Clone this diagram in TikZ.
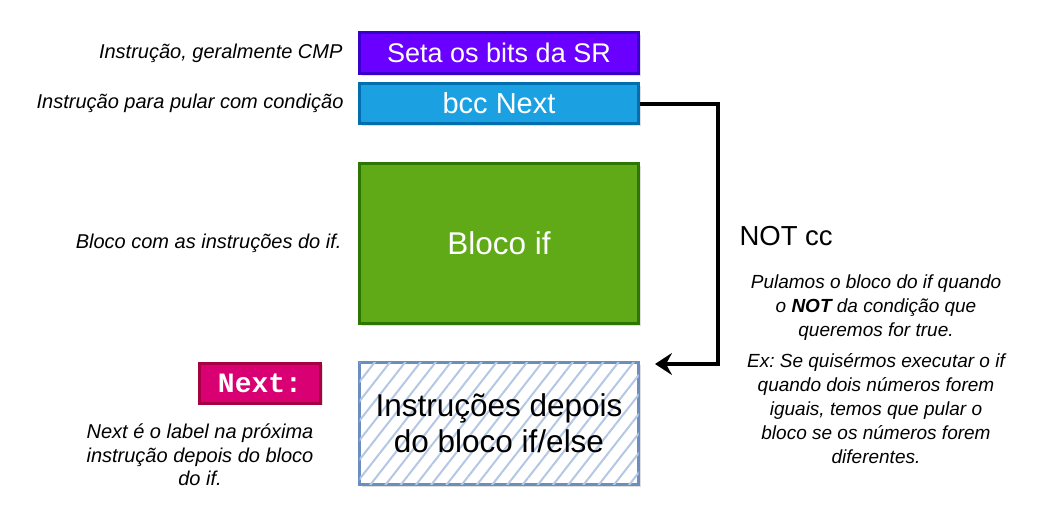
\documentclass[tikz,border=0pt]{standalone}
\usepackage{fontspec}
\setmainfont{Liberation Sans}
\setmonofont{Liberation Mono}
\usepackage{tikz}
\usetikzlibrary{positioning, arrows.meta, patterns.meta, shadows}
\frenchspacing

\definecolor{setafill}{HTML}{6A00FF}
\definecolor{setaline}{HTML}{3700CC}
\definecolor{bccfill}{HTML}{1BA1E2}
\definecolor{bccline}{HTML}{006EAF}
\definecolor{blocofill}{HTML}{60A917}
\definecolor{blocoline}{HTML}{2D7600}
\definecolor{nextfill}{HTML}{D80073}
\definecolor{nextline}{HTML}{A50040}
\definecolor{depoisline}{HTML}{6C8EBF}
\definecolor{hatch}{HTML}{B4C8E6}

\tikzset{
	instr/.style={draw, line width=3pt, minimum width=279pt, text=white,
		font=\fontsize{25}{28}\selectfont,
		drop shadow={opacity=0.25, shadow xshift=2pt, shadow yshift=-2pt}},
	note/.style={font=\itshape\fontsize{20}{23.5}\selectfont, align=center},
	jumparrow/.style={line width=4pt, -{Stealth[length=17pt, width=22pt, inset=6pt]}},
}

\begin{document}
\begin{tikzpicture}[x=1pt, y=-1pt]
		\useasboundingbox (0,0) rectangle (1062,530);

		\node[instr, fill=setafill, draw=setaline, minimum height=41pt,
			font=\fontsize{27}{30}\selectfont]	(Seta) at (499,53) {Seta os bits da SR};
		\node[instr, fill=bccfill, draw=bccline, minimum height=40pt, below=7pt of Seta,
			font=\fontsize{29}{32}\selectfont]	(Bcc) {bcc Next};
		\node[instr, fill=blocofill, draw=blocoline, minimum height=160pt, below=37pt of Bcc,
			font=\fontsize{31.5}{36}\selectfont]	(Bloco) {Bloco if};
		\node[instr, fill=white, draw=depoisline, minimum height=122pt, below=36pt of Bloco,
			postaction={pattern={Lines[angle=52, distance=12pt, line width=2pt]}, pattern color=hatch}]
			(Depois) {};
		\node[font=\fontsize{31.5}{36}\selectfont, align=center] at (Depois) {Instruções depois\\do bloco if/else};

		\node[instr, fill=nextfill, draw=nextline, minimum width=121pt, minimum height=40pt,
			font=\ttfamily\bfseries\fontsize{28}{30}\selectfont]	(Next) at (260,383) {Next:};

		% textos da esquerda
		\node[note, left=12pt of Seta]	(SetaNota) {Instrução, geralmente CMP};
		\node[note, left=11pt of Bcc]	(BccNota) {Instrução para pular com condição};
		\node[note, left=13pt of Bloco]	(BlocoNota) {Bloco com as instruções do if.};
		\node[note]	(NextNota) at (200,455) {Next é o label na próxima\\instrução depois do bloco\\do if.};

		% salto
		\coordinate (Salto) at ([xshift=15pt, yshift=-3pt]Depois.north east);
		\draw[jumparrow] (Bcc.east) -- ++(78,0) |- (Salto);
		\node[anchor=west, font=\fontsize{27.5}{30}\selectfont]	(NotCC) at (736,236) {NOT cc};
		\node[note, font=\itshape\fontsize{19}{24}\selectfont]	(SaltoNota) at (876,369) {Pulamos o bloco do if quando\\o \textbf{NOT} da condição que\\queremos for true.\\[7pt]
			Ex: Se quisérmos executar o if\\quando dois números forem\\iguais, temos que pular o\\bloco se os números forem\\diferentes.};
	\end{tikzpicture}
\end{document}
